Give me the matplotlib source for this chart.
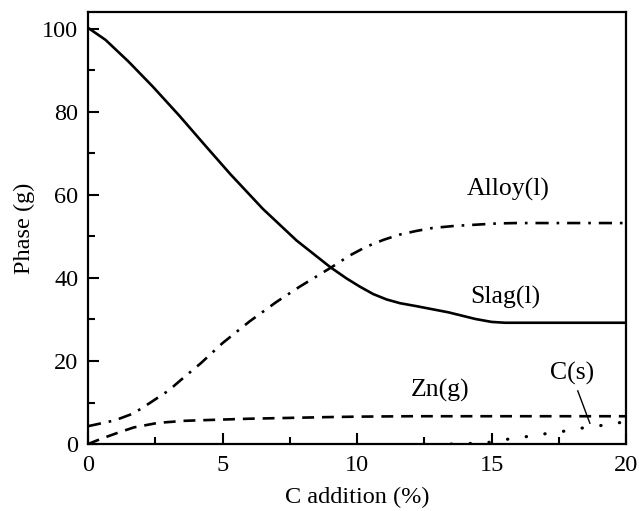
import numpy as np
import matplotlib.pyplot as plt
from matplotlib.ticker import MultipleLocator

plt.rcParams['font.family'] = ['Liberation Serif', 'DejaVu Serif']

# data
slag_x = [0, 0.65, 1.5, 2.4, 3.4, 4.35, 5.3, 6.5, 7.75, 9.0, 9.6, 10.1, 10.6, 11.1, 11.6, 12.2, 13.4, 14.4, 15.0, 15.5, 16, 18, 20]
slag_y = [100.2, 97.3, 92.1, 86.1, 79.0, 71.9, 64.9, 56.6, 49.0, 42.6, 39.9, 37.9, 36.1, 34.8, 33.9, 33.2, 31.7, 30.1, 29.4, 29.2, 29.2, 29.2, 29.2]

alloy_x = [0, 1, 1.7, 2.3, 3, 3.5, 4.2, 5, 6, 7, 7.87, 9.06, 9.7, 10.34, 11, 11.57, 12.2, 12.8, 13.6, 14.4, 15.2, 15.9, 18, 20]
alloy_y = [4.3, 5.7, 7.4, 9.9, 12.9, 15.7, 19.5, 24.3, 29.5, 34.2, 37.9, 42.6, 45.3, 47.5, 49.2, 50.4, 51.3, 52.0, 52.5, 52.8, 53.1, 53.2, 53.2, 53.2]

zn_x = [0, 0.5, 1.1, 1.7, 2.6, 3.6, 5, 6, 7.5, 9, 10, 12, 15, 20]
zn_y = [0, 1.3, 2.7, 4.0, 5.1, 5.6, 5.9, 6.1, 6.3, 6.5, 6.6, 6.7, 6.7, 6.7]

c_x = [13.5, 14, 14.8, 15.4, 16.2, 16.9, 17.6, 18.3, 19.0, 19.7, 20]
c_y = [0, 0.1, 0.3, 1.0, 1.7, 2.4, 3.0, 3.8, 4.4, 5.1, 5.4]

fig = plt.figure(figsize=(6.39, 5.11), dpi=100)
ax = fig.add_axes([0.1377, 0.131, 0.8423, 0.8455])

lw = 1.9
ax.plot(slag_x, slag_y, color='black', lw=lw, linestyle='-')
ax.plot(alloy_x, alloy_y, color='black', lw=lw, linestyle=(0, (5, 3, 1, 3)))
ax.plot(zn_x, zn_y, color='black', lw=lw, linestyle=(0, (4.5, 3)))
ax.plot(c_x, c_y, color='black', lw=2.3, linestyle=(0, (0.1, 5.8)), dash_capstyle='round')

fs = 18.5
ax.text(15.6, 61.2, 'Alloy(l)', fontsize=fs, ha='center', va='center')
ax.text(15.5, 35.4, 'Slag(l)', fontsize=fs, ha='center', va='center')
ax.text(13.1, 13.0, 'Zn(g)', fontsize=fs, ha='center', va='center')
ax.text(18.0, 17.1, 'C(s)', fontsize=fs, ha='center', va='center')
ax.plot([18.2, 18.65], [12.8, 5.0], color='black', lw=1.0)

ax.set_xlim(0, 20)
ax.set_ylim(0, 104)
ax.xaxis.set_major_locator(MultipleLocator(5))
ax.xaxis.set_minor_locator(MultipleLocator(2.5))
ax.yaxis.set_major_locator(MultipleLocator(20))
ax.yaxis.set_minor_locator(MultipleLocator(10))
ax.tick_params(which='both', direction='in', top=False, right=False, labelsize=17.5, width=1.5, pad=7)
ax.tick_params(axis='x', which='both', pad=8)
ax.tick_params(which='major', length=8)
ax.tick_params(which='minor', length=5)
for s in ax.spines.values():
    s.set_linewidth(1.6)

ax.set_xlabel('C addition (%)', fontsize=17.5, labelpad=8)
ax.set_ylabel('Phase (g)', fontsize=17.5, labelpad=5)

fig.savefig('out.png', dpi=100)
